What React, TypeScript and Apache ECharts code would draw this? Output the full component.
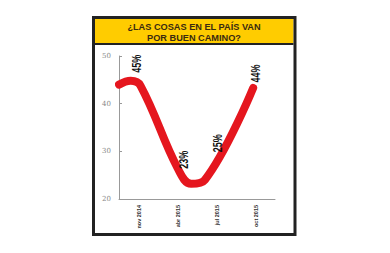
import React, { useEffect, useRef } from "react";
import * as echarts from "echarts";

const titleLines = ["¿LAS COSAS EN EL PAÍS VAN", "POR BUEN CAMINO?"];
const categories = ["nov 2014", "abr 2015", "jul 2015", "oct 2015"];
const values = [45, 23, 25, 44];
const labelTexts = ["45%", "23%", "25%", "44%"];
// curve (x in category units from axis start)
const curveX = [0, 0.3, 0.55, 1.5, 1.85, 2.2, 3.44];
const curveY = [44, 44.8, 43.8, 26.5, 23.2, 24.0, 43.3];
const yTicks = { min: 20, max: 50, interval: 10 };

// screen offsets of each value label centre from its data point
const labelShift: [number, number][] = [
  [-2, -16],
  [6, -25],
  [1, -32],
  [0, -11],
];

const narrow = "'Liberation Sans Narrow', 'Liberation Sans', Arial, sans-serif";

export default function App() {
  const ref = useRef<HTMLDivElement>(null);
  useEffect(() => {
    if (!ref.current) return;
    const chart = echarts.init(ref.current, null, { renderer: "svg" });
    const frame: any[] = [
      {
        id: "frame",
        type: "rect",
        shape: { x: 93.5, y: 17.5, width: 201.5, height: 217 },
        style: { fill: "none", stroke: "#222", lineWidth: 3 },
        z: 10,
      },
      {
        id: "band",
        type: "rect",
        shape: { x: 95, y: 19, width: 198.5, height: 24 },
        style: { fill: "#FFCC00" },
        z: 9,
      },
      {
        id: "bandline",
        type: "line",
        shape: { x1: 95, y1: 44, x2: 293.5, y2: 44 },
        style: { stroke: "#222", lineWidth: 2 },
        z: 10,
      },
      ...titleLines.map((t, i) => ({
        id: "title" + i,
        type: "text",
        x: 194,
        y: 26.8 + i * 10.8,
        style: {
          text: t,
          fill: "#3a2a10",
          fontSize: 9.2,
          fontFamily: "'Liberation Sans', Arial, sans-serif",
          fontWeight: "bold",
          align: "center",
          verticalAlign: "middle",
        },
        z: 11,
      })),
    ];
    chart.setOption({
      animation: false,
      backgroundColor: "#fff",
      grid: { left: 119, right: 115, top: 56, bottom: 54 },
      xAxis: [
        {
          type: "category",
          data: categories,
          boundaryGap: true,
          axisLine: { lineStyle: { color: "#999", width: 1 } },
          axisTick: { inside: true, length: 4, lineStyle: { color: "#999" } },
          axisLabel: {
            rotate: 90,
            fontSize: 5.5,
            fontWeight: "bold",
            color: "#333",
            fontFamily: narrow,
            margin: 6,
          },
        },
        {
          type: "value",
          min: 0,
          max: 4,
          show: false,
        },
      ],
      yAxis: {
        type: "value",
        min: yTicks.min,
        max: yTicks.max,
        interval: yTicks.interval,
        splitLine: { show: false },
        axisLine: { show: true, lineStyle: { color: "#999", width: 1 } },
        axisTick: { show: true, inside: true, length: 3, lineStyle: { color: "#999" } },
        axisLabel: { fontSize: 7, color: "#888", fontFamily: "DejaVu Serif", margin: 8 },
      },
      series: [
        {
          type: "line",
          xAxisIndex: 1,
          data: curveX.map((x, i) => [x, curveY[i]]),
          smooth: 0.4,
          symbol: "none",
          lineStyle: { color: "#E5161E", width: 8, cap: "round", join: "round" },
        },
      ],
      graphic: frame,
    });
    const labels = values.map((v, i) => {
      const p = chart.convertToPixel({ xAxisIndex: 0, yAxisIndex: 0 }, [categories[i], v]) as number[];
      return {
        id: "val" + i,
        type: "text",
        x: p[0] + labelShift[i][0],
        y: p[1] + labelShift[i][1],
        rotation: Math.PI / 2,
        scaleX: 0.75,
        style: {
          text: labelTexts[i],
          fill: "#111",
          fontSize: 12,
          fontWeight: "bold",
          fontFamily: "'Liberation Sans', Arial, sans-serif",
          align: "center",
          verticalAlign: "middle",
        },
        z: 12,
      };
    });
    chart.setOption({ graphic: [...frame, ...labels] });
    return () => chart.dispose();
  }, []);
  return (
    <div
      ref={ref}
      style={{ position: "fixed", left: 0, top: 0, width: 390, height: 253, background: "#fff" }}
    />
  );
}
